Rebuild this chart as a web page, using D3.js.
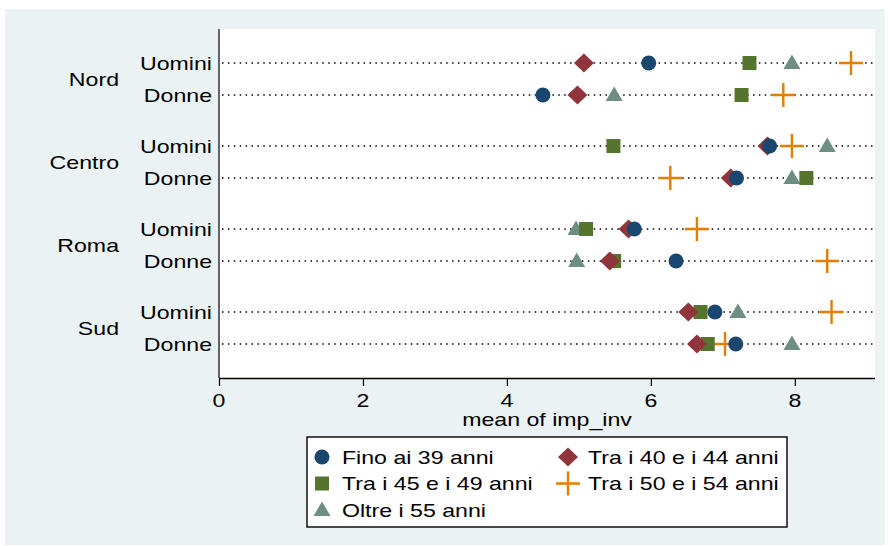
<!DOCTYPE html>
<html>
<head>
<meta charset="utf-8">
<script src="https://cdn.jsdelivr.net/npm/d3@7"></script>
<style>
  html, body { margin: 0; padding: 0; background: #fff; }
  svg text { font-family: "Liberation Sans", Arial, sans-serif; fill: #000; }
</style>
</head>
<body>
<svg id="chart" width="890" height="546"></svg>
<script>
// rows: area x sex, series values in the same row order
const groups = ['Nord', 'Centro', 'Roma', 'Sud']
const sexes = ['Uomini', 'Donne']
const seriesNames = ['Fino ai 39 anni', 'Tra i 40 e i 44 anni', 'Tra i 45 e i 49 anni', 'Tra i 50 e i 54 anni', 'Oltre i 55 anni']
// order: Nord U, Nord D, Centro U, Centro D, Roma U, Roma D, Sud U, Sud D
const fino39 = [5.97, 4.50, 7.65, 7.19, 5.77, 6.35, 6.89, 7.18]
const tra40 = [5.07, 4.98, 7.62, 7.11, 5.69, 5.43, 6.52, 6.64]
const tra45 = [7.37, 7.26, 5.48, 8.16, 5.10, 5.49, 6.69, 6.79]
const tra50 = [8.78, 7.84, 7.96, 6.27, 6.64, 8.45, 8.51, 7.03]
const oltre55 = [7.96, 5.49, 8.45, 7.96, 4.96, 4.97, 7.21, 7.96]
const xTicks = [0, 2, 4, 6, 8]
const xTitle = 'mean of imp_inv'

const seriesValues = [fino39, tra40, tra45, tra50, oltre55]
const colors = ['#1a476f', '#90353b', '#55752f', '#e37e00', '#6e8e84']
const shapes = ['circle', 'diamond', 'square', 'plus', 'triangle']

const svg = d3.select('#chart')
const TX = 1.25 // Stata text is a bit wide
const FS = 18.5

// backgrounds
svg.append('rect').attr('x', 5).attr('y', 9).attr('width', 880).attr('height', 536).attr('fill', '#eaf2f3')
const plot = { left: 219, right: 875, top: 29, bottom: 378 }
svg.append('rect').attr('x', plot.left).attr('y', plot.top)
  .attr('width', plot.right - plot.left).attr('height', plot.bottom - plot.top).attr('fill', '#fff')

const x = d3.scaleLinear().domain([0, 9.1]).range([plot.left, plot.right - 1])
const yGroup = d3.scalePoint().domain(groups).range([79, 328])
const ySex = d3.scalePoint().domain(sexes).range([-16, 16])

const rows = []
groups.forEach(g => sexes.forEach(s => rows.push({ g, s, y: yGroup(g) + ySex(s) })))

function wideText (sel, tx, ty, str, anchor, size) {
  const t = sel.append('g').attr('transform', `translate(${tx},${ty}) scale(${TX},1)`)
  t.append('text').attr('text-anchor', anchor).attr('font-size', size).attr('dy', '0.36em').text(str)
  return t
}

// dotted row lines
svg.append('g').selectAll('line').data(rows).join('line')
  .attr('x1', plot.left + 3).attr('x2', plot.right - 2)
  .attr('y1', d => d.y).attr('y2', d => d.y)
  .attr('stroke', '#000').attr('stroke-width', 1.5)
  .attr('stroke-dasharray', '1.5,4.4')

// row labels
rows.forEach(r => wideText(svg, 212, r.y, r.s, 'end', FS))
groups.forEach(g => wideText(svg, 119, yGroup(g), g, 'end', FS))

// markers
function marker (sel, shape, color, cx, cy) {
  if (shape === 'circle') {
    sel.append('circle').attr('cx', cx).attr('cy', cy).attr('r', 7.5).attr('fill', color)
  } else if (shape === 'diamond') {
    sel.append('path').attr('d', `M${cx},${cy - 9.5}L${cx + 10},${cy}L${cx},${cy + 9.5}L${cx - 10},${cy}Z`).attr('fill', color)
  } else if (shape === 'square') {
    sel.append('rect').attr('x', cx - 7).attr('y', cy - 7).attr('width', 14).attr('height', 14).attr('fill', color)
  } else if (shape === 'triangle') {
    sel.append('path').attr('d', `M${cx},${cy - 8.5}L${cx + 8.5},${cy + 6}L${cx - 8.5},${cy + 6}Z`).attr('fill', color)
  } else if (shape === 'plus') {
    sel.append('path').attr('d', `M${cx - 12},${cy}H${cx + 12}M${cx},${cy - 12}V${cy + 12}`)
      .attr('stroke', color).attr('stroke-width', 2.4).attr('fill', 'none')
  }
}

const markG = svg.append('g')
// later series drawn underneath: draw in reverse order
for (let k = seriesValues.length - 1; k >= 0; k--) {
  seriesValues[k].forEach((v, i) => marker(markG, shapes[k], colors[k], x(v), rows[i].y))
}

// axes
svg.append('line').attr('x1', plot.left).attr('x2', plot.left).attr('y1', plot.top).attr('y2', plot.bottom)
  .attr('stroke', '#000').attr('stroke-width', 1.2)
const xAxis = svg.append('g').attr('transform', `translate(0,${plot.bottom})`)
  .call(d3.axisBottom(x).tickValues(xTicks).tickSize(8).tickSizeOuter(0).tickFormat(''))
xAxis.select('.domain').attr('stroke-width', 1.6).attr('d', `M${plot.left},0.5H${plot.right}`)
xAxis.selectAll('.tick line').attr('stroke-width', 1.2)
xTicks.forEach(t => wideText(svg, x(t), 400, String(t), 'middle', FS))
wideText(svg, (plot.left + plot.right) / 2, 419, xTitle, 'middle', FS)

// legend
const leg = svg.append('g')
leg.append('rect').attr('x', 307).attr('y', 437).attr('width', 480).attr('height', 90)
  .attr('fill', '#fff').attr('stroke', '#000').attr('stroke-width', 1.4)
seriesNames.forEach((name, k) => {
  const col = k % 2
  const row = Math.floor(k / 2)
  const mx = col === 0 ? 322 : 568
  const my = 457 + row * 26.5
  marker(leg, shapes[k], colors[k], mx, my)
  wideText(leg, mx + 20, my, name, 'start', FS)
})
</script>
</body>
</html>
